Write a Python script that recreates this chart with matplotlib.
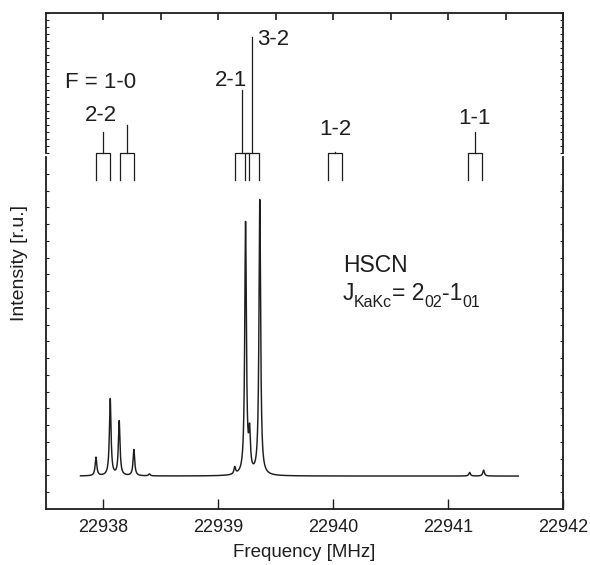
import numpy as np
import matplotlib
matplotlib.use('Agg')
import matplotlib.pyplot as plt
from matplotlib.transforms import offset_copy

plt.rcParams['font.family'] = ['Liberation Sans', 'DejaVu Sans']

# observed lines: centre (MHz), peak intensity (r.u.)
peak_freq = [22937.935, 22938.059, 22938.137, 22938.265, 22938.40,
             22939.143, 22939.237, 22939.272, 22939.361,
             22941.187, 22941.309]
peak_amp = [0.066, 0.275, 0.195, 0.094, 0.007,
            0.025, 0.90, 0.13, 0.985,
            0.013, 0.021]
hwhm = 0.0085
freq_start, freq_stop = 22937.80, 22941.61

# hyperfine stick diagram: centre, relative height, label
stick_freq = [22937.998, 22938.204, 22939.208, 22939.296, 22940.018, 22941.236]
stick_height = [0.15, 0.20, 0.45, 0.83, 0.01, 0.15]
doppler_half = 0.06
labels = ['F = 1-0', '2-2', '2-1', '3-2', '1-2', '1-1']
label_x = [22937.978, 22937.978, 22939.109, 22939.474, 22940.022, 22941.230]
label_y = [0.50, 0.27, 0.52, 0.81, 0.165, 0.25]

ink = '#1e1e1e'
fig = plt.figure(figsize=(5.9, 5.65), dpi=100)
ax = fig.add_axes([46/590, 56/565, 517/590, 352/565])
axt = fig.add_axes([46/590, 412/565, 517/590, 140/565])

# spectrum
f = np.linspace(freq_start, freq_stop, 20000)
spec = np.zeros_like(f)
for f0, a in zip(peak_freq, peak_amp):
    spec += a * hwhm**2 / ((f - f0)**2 + hwhm**2)
ax.plot(f, spec, color=ink, lw=1.05)

ylo, yhi = -0.118, 1.143
ax.set_xlim(22937.5, 22942)
ax.set_ylim(ylo, yhi)
ax.set_xticks([22938, 22939, 22940, 22941, 22942])
ax.set_xticklabels(['22938', '22939', '22940', '22941', '22942'])
ax.set_yticks(np.linspace(ylo, yhi, 22)[1:-1])
ax.set_yticklabels([])
ax.tick_params(axis='x', direction='in', length=7, width=1, pad=7,
               labelsize=13, colors=ink)
ax.tick_params(axis='y', direction='in', length=2.5, width=0.8,
               left=True, right=True, colors=ink)
ax.spines['top'].set_visible(False)
for s in ['left', 'right', 'bottom']:
    ax.spines[s].set_linewidth(1.3)
    ax.spines[s].set_color(ink)
ax.set_xlabel('Frequency [MHz]', fontsize=13.5, color=ink, labelpad=6)

tr = ax.get_xaxis_transform()
ax.text(22940.083, 0.674, 'HSCN', transform=tr,
        fontsize=16.5, color=ink, va='baseline')

# J_KaKc = 2_02 - 1_01, written piece by piece with lowered subscripts
pieces = [('J', 16.5, 0), ('KaKc', 11.5, -7), ('= 2', 16.5, 0),
          ('02', 11.5, -7), ('-1', 16.5, 0), ('01', 11.5, -7)]
fig.canvas.draw()
renderer = fig.canvas.get_renderer()
dx = 0.0
for txt, size, dy in pieces:
    t = ax.text(22940.083, 0.594, txt, fontsize=size, color=ink,
                va='baseline',
                transform=offset_copy(tr, fig=fig, x=dx, y=dy, units='dots'))
    dx += t.get_window_extent(renderer).width

# stick diagram
axt.set_xlim(22937.5, 22942)
axt.set_ylim(0, 1)
leg_bottom = -0.193
for f0, h in zip(stick_freq, stick_height):
    fl, fr = f0 - doppler_half, f0 + doppler_half
    axt.plot([fl, fl, fr, fr], [leg_bottom, 0, 0, leg_bottom],
             color=ink, lw=0.9, clip_on=False)
    axt.plot([f0, f0], [0, h], color=ink, lw=0.9, clip_on=False)
for t, x, y in zip(labels, label_x, label_y):
    axt.text(x, y, t, ha='center', va='center', fontsize=16, color=ink)

axt.set_xticks(np.arange(22938, 22942.01, 0.5))
axt.set_yticks(np.linspace(0, 1, 21))
axt.set_xticklabels([])
axt.set_yticklabels([])
axt.tick_params(axis='x', direction='in', length=5, width=1.2,
                top=True, bottom=False, colors=ink)
axt.tick_params(axis='y', direction='in', length=2, width=0.8,
                left=True, right=True, colors=ink)
axt.spines['bottom'].set_visible(False)
for s in ['left', 'right', 'top']:
    axt.spines[s].set_linewidth(1.3)
    axt.spines[s].set_color(ink)

fig.text(20/590, 1 - 263/565, 'Intensity [r.u.]', rotation=90,
         ha='center', va='center', fontsize=14, color=ink)

fig.savefig('out.png', dpi=100)
